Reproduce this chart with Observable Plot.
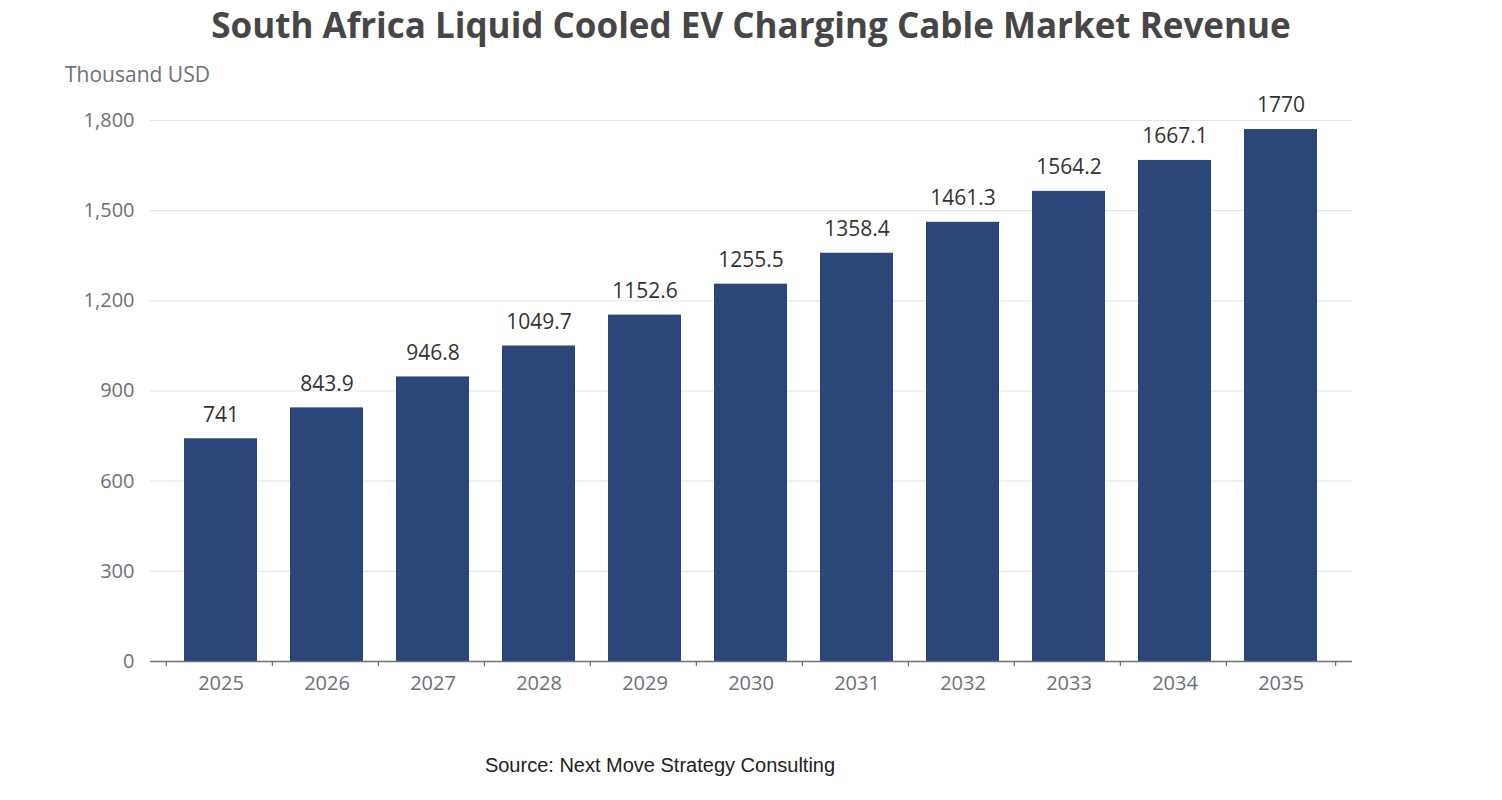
<!DOCTYPE html>
<html><head><meta charset="utf-8">
<script src="https://cdn.jsdelivr.net/npm/d3@7"></script>
<script src="https://cdn.jsdelivr.net/npm/@observablehq/plot@0.6"></script>
<style>
body{margin:0;background:#fff;font-family:"Open Sans","Noto Sans",sans-serif;}
#wrap{position:relative;width:1502px;height:800px;}
#title{position:absolute;top:0;left:0;width:1502px;text-align:center;font-size:35px;font-weight:bold;color:#464646;line-height:50px;}
#unit{position:absolute;left:65px;top:60px;font-size:21px;color:#6e7079;}
#src{position:absolute;top:754px;left:0;width:1320px;text-align:center;font-family:"Liberation Sans",Arial,sans-serif;font-size:20px;color:#222;}
</style></head><body>
<div id="wrap">
<div id="title">South Africa Liquid Cooled EV Charging Cable Market Revenue</div>
<div id="unit">Thousand USD</div>
<div id="chart"></div>
<div id="src">Source: Next Move Strategy Consulting</div>
</div>
<script>
const years=["2025","2026","2027","2028","2029","2030","2031","2032","2033","2034","2035"];
const values=[741,843.9,946.8,1049.7,1152.6,1255.5,1358.4,1461.3,1564.2,1667.1,1770];
const yTicks=[0,300,600,900,1200,1500,1800];
const data=years.map((y,i)=>({year:y,value:values[i]}));
const step=(1352-150)/years.length;
const chart=Plot.plot({
  width:1502,height:800,marginTop:120,marginBottom:139,marginLeft:150,marginRight:150,
  style:{fontFamily:"'Open Sans','Noto Sans',sans-serif",fontSize:"20px",color:"#6e7079"},
  x:{domain:years,padding:0.31,label:null},
  y:{domain:[0,1800],label:null},
  marks:[
    Plot.ruleY(yTicks.filter(d=>d>0),{y:d=>d,stroke:"#e0e6f1",strokeWidth:1.2}),
    Plot.axisY({ticks:yTicks,tickSize:0,tickPadding:16,tickFormat:d3.format(","),fontSize:20,fill:"#6e7079"}),
    Plot.axisX({tickSize:0,tickPadding:14,fontSize:20,fill:"#6e7079"}),
    Plot.barY(data,{x:"year",y:"value",fill:"#2b4679"}),
    Plot.text(data,{x:"year",y:"value",text:d=>String(d.value),dy:-24,fontSize:21,fill:"#333"}),
    Plot.ruleY([0],{stroke:"#6e7079",strokeWidth:1.5}),
    Plot.ruleX(years,{x:d=>d,dx:-step/2,y1:0,y2:-17,stroke:"#6e7079",strokeWidth:1.3}),
    Plot.ruleX([years[years.length-1]],{x:d=>d,dx:step/2,y1:0,y2:-17,stroke:"#6e7079",strokeWidth:1.3})
  ]
});
document.getElementById("chart").appendChild(chart);
</script>
</body></html>
